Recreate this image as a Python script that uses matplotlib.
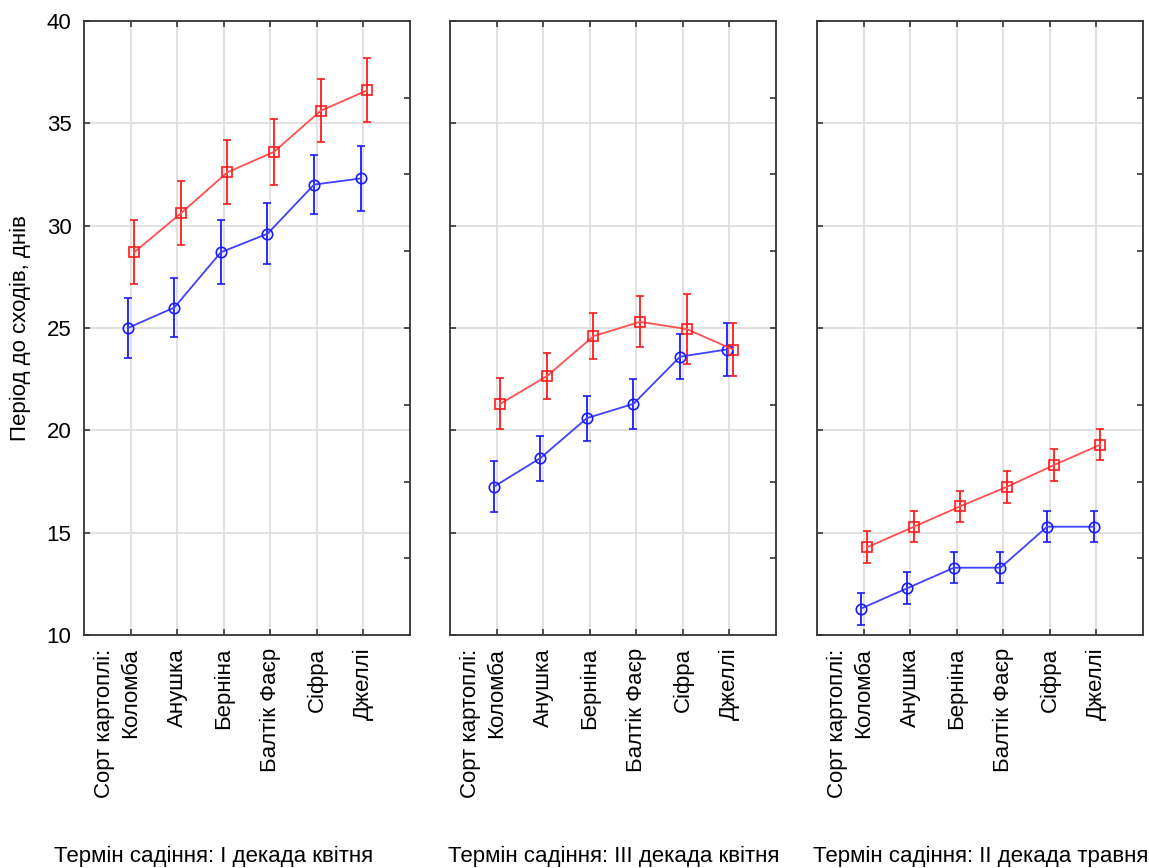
import numpy as np
import matplotlib
matplotlib.use('Agg')
import matplotlib.pyplot as plt

plt.rcParams['font.family'] = ['Liberation Sans', 'DejaVu Sans']

cats = ['Коломба', 'Анушка', 'Берніна', 'Балтік Фаєр', 'Сіфра', 'Джеллі']
titles = ['Термін садіння: I декада квітня',
          'Термін садіння: III декада квітня',
          'Термін садіння: II декада травня']

# blue series (circles) and red series (squares), per planting term
blue_vals = [[25.0, 26.0, 28.7, 29.6, 32.0, 32.3],
             [17.25, 18.65, 20.6, 21.3, 23.6, 23.95],
             [11.3, 12.3, 13.3, 13.3, 15.3, 15.3]]
blue_err = [[1.45, 1.45, 1.55, 1.5, 1.45, 1.6],
            [1.25, 1.1, 1.1, 1.23, 1.1, 1.27],
            [0.78, 0.77, 0.77, 0.77, 0.77, 0.77]]
red_vals = [[28.7, 30.6, 32.6, 33.6, 35.6, 36.6],
            [21.3, 22.65, 24.6, 25.3, 24.95, 23.95],
            [14.3, 15.3, 16.3, 17.25, 18.3, 19.3]]
red_err = [[1.56, 1.56, 1.56, 1.6, 1.54, 1.56],
           [1.24, 1.12, 1.12, 1.24, 1.72, 1.28],
           [0.78, 0.76, 0.76, 0.79, 0.77, 0.76]]

fig = plt.figure(figsize=(11.49, 8.68), dpi=100)
lefts = [84, 450, 817]
W, H = 1149, 868
x = np.arange(1, 7)
fs = 16

for i in range(3):
    ax = fig.add_axes([lefts[i] / W, 1 - 635.3 / H, 326 / W, 614.6 / H])
    ax.set_xlim(0, 7)
    ax.set_ylim(10, 40)
    ax.set_yticks(np.arange(10, 41, 5))
    ax.set_xticks(x)
    ax.set_xticklabels(cats, rotation=90, fontsize=fs, va='top', ha='center')
    ax.grid(True, color='#dcdcdc', lw=1.2)
    ax.set_axisbelow(True)
    ax.tick_params(axis='both', direction='in', length=4, width=1.2, color='#333333',
                   labelsize=fs, top=True, pad=9)
    if i > 0:
        ax.tick_params(axis='y', labelleft=False)
    for s in ax.spines.values():
        s.set_color('#333333')
        s.set_linewidth(1.3)

    ax.annotate('Сорт картоплі:', xy=(1, 0), xycoords=('data', 'axes fraction'),
                xytext=(-18.5, -9.5), textcoords='offset points', rotation=90,
                fontsize=fs, ha='center', va='top')

    ax.errorbar(x - 0.06, blue_vals[i], yerr=blue_err[i], color='#4040ff', ecolor='#1a1aff',
                lw=1.3, elinewidth=1.3, capsize=3, capthick=1.3, marker='o', ms=7.5,
                mfc='none', mec='#1a1aff', mew=1.2, zorder=3)
    ax.errorbar(x + 0.08, red_vals[i], yerr=red_err[i], color='#ff5050', ecolor='#ff1a1a',
                lw=1.3, elinewidth=1.3, capsize=3, capthick=1.3, marker='s', ms=7.5,
                mfc='none', mec='#ff1a1a', mew=1.2, zorder=3)

    ax2 = ax.twinx()
    ax2.set_ylim(10, 40)
    ax2.set_yticks([40 - 3.75 * k for k in range(1, 8)])
    ax2.tick_params(direction='in', length=4, width=1.2, color='#333333', labelright=False)
    for s in ax2.spines.values():
        s.set_visible(False)

    fig.text([214, 614, 981][i] / W, 1 - 856 / H, titles[i], fontsize=fs,
             ha='center', va='center')

fig.text(20 / W, 1 - 328 / H, 'Період до сходів, днів', rotation=90, fontsize=fs,
         ha='center', va='center')

fig.savefig('out.png', dpi=100)
